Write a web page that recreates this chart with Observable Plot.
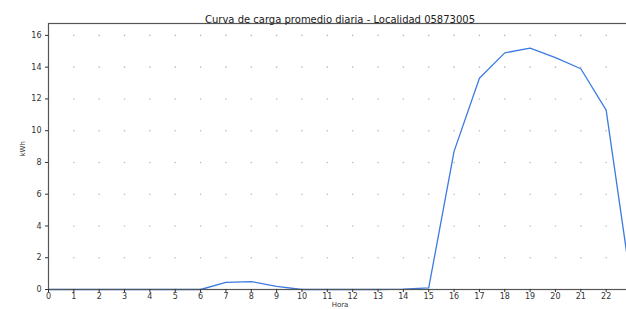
<!DOCTYPE html>
<html>
<head>
<meta charset="utf-8">
<script src="https://cdn.jsdelivr.net/npm/d3@7"></script>
<script src="https://cdn.jsdelivr.net/npm/@observablehq/plot@0.6"></script>
<style>
  html, body { margin: 0; padding: 0; background: #fff; overflow: hidden; width: 626px; height: 309px; }
  #chart { position: relative; width: 626px; height: 309px; overflow: hidden; }
  #chart svg { max-width: none !important; height: 309px !important; width: 660px !important; }
</style>
</head>
<body>
<div id="chart"></div>
<script>
const title = "Curva de carga promedio diaria - Localidad 05873005";
const xLabel = "Hora";
const yLabel = "kWh";
const hours = [0,1,2,3,4,5,6,7,8,9,10,11,12,13,14,15,16,17,18,19,20,21,22,23];
const kwh   = [0,0,0,0,0,0,0,0.45,0.5,0.2,0,0,0,0,0.02,0.1,8.7,13.3,14.9,15.2,14.6,13.9,11.3,0.2];
const xTicks = [0,1,2,3,4,5,6,7,8,9,10,11,12,13,14,15,16,17,18,19,20,21,22,23];
const yTicks = [0,2,4,6,8,10,12,14,16];

const data = hours.map((h, i) => ({h, v: kwh[i]}));
const gridPts = [];
for (const x of xTicks) for (const y of yTicks) gridPts.push({x, y});

const font = "DejaVu Sans, sans-serif";
const chart = Plot.plot({
  width: 660,
  height: 309,
  marginLeft: 48,
  marginRight: 29,
  marginTop: 23,
  marginBottom: 20,
  style: {fontFamily: font, fontSize: "8px", color: "#333", background: "#fff", maxWidth: "none"},
  x: {domain: [0, 23], ticks: xTicks},
  y: {domain: [0, 16.75], ticks: yTicks},
  marks: [
    Plot.dot(gridPts, {x: "x", y: "y", r: 0.8, fill: "#bbb", stroke: null}),
    Plot.line(data, {x: "h", y: "v", stroke: "#3b7be0", strokeWidth: 1.3}),
    Plot.frame({stroke: "#555", strokeWidth: 1.2}),
    Plot.axisX({ticks: xTicks, tickSize: 3, tickPadding: 1, tickFormat: d => String(d), label: null}),
    Plot.axisY({ticks: yTicks, tickSize: 3, tickPadding: 4, tickFormat: d => String(d), label: null}),
    Plot.text([xLabel], {frameAnchor: "bottom", dy: 17, fontSize: 7, fill: "#333"}),
    Plot.text([yLabel], {frameAnchor: "left", dx: -26, rotate: -90, fontSize: 7, fill: "#333"}),
    Plot.text([title], {frameAnchor: "top", dy: -8, fontSize: 10, fill: "#222"})
  ]
});
document.getElementById("chart").appendChild(chart);
</script>
</body>
</html>
